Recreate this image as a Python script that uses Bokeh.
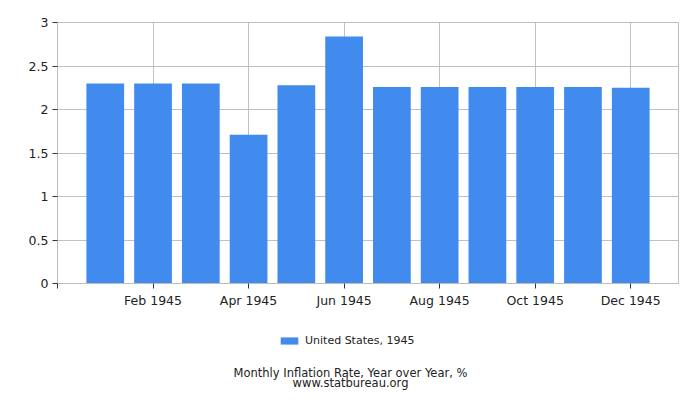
from bokeh.plotting import figure
from bokeh.layouts import column
from bokeh.models import (ColumnDataSource, FixedTicker, Range1d, Legend, LegendItem, Label)
from bokeh.embed import file_html
from bokeh.resources import INLINE

months = ["Jan 1945", "Feb 1945", "Mar 1945", "Apr 1945", "May 1945", "Jun 1945",
          "Jul 1945", "Aug 1945", "Sep 1945", "Oct 1945", "Nov 1945", "Dec 1945"]
month_index = list(range(1, 13))
inflation = [2.30, 2.30, 2.30, 1.71, 2.28, 2.84, 2.26, 2.26, 2.26, 2.26, 2.26, 2.25]
x_ticks = [0, 2, 4, 6, 8, 10, 12]
x_tick_labels = {0: "", 2: "Feb 1945", 4: "Apr 1945", 6: "Jun 1945",
                 8: "Aug 1945", 10: "Oct 1945", 12: "Dec 1945"}
y_ticks = [0, 0.5, 1, 1.5, 2, 2.5, 3]
y_tick_labels = {0: "0", 0.5: "0.5", 1: "1", 1.5: "1.5", 2: "2", 2.5: "2.5", 3: "3"}
series_name = "United States, 1945"
title_text = "Monthly Inflation Rate, Year over Year, %"
source_text = "www.statbureau.org"

FONT = "DejaVu Sans"
BAR = "#428bee"
TXT = "#222222"

src = ColumnDataSource(dict(x=month_index, y=inflation, m=months))

p = figure(width=700, height=310, output_backend="svg", toolbar_location=None,
           x_range=Range1d(0, 13), y_range=Range1d(0, 3),
           min_border_left=57, min_border_top=22, min_border_right=22, min_border_bottom=27)
p.background_fill_color = "white"
p.border_fill_color = "white"
p.outline_line_color = "#bdbdbd"

r = p.vbar(x="x", top="y", width=0.79, source=src, fill_color=BAR, line_color=None)

p.xaxis.ticker = FixedTicker(ticks=x_ticks)
p.xaxis.major_label_overrides = x_tick_labels
p.yaxis.ticker = FixedTicker(ticks=y_ticks)
p.yaxis.major_label_overrides = y_tick_labels
for ax in (p.xaxis, p.yaxis):
    ax.axis_line_color = "#bdbdbd"
    ax.major_tick_line_color = "#333333"
    ax.major_tick_out = 5
    ax.major_tick_in = 0
    ax.minor_tick_line_color = None
    ax.major_label_text_font = FONT
    ax.major_label_text_font_size = "12.5px"
    ax.major_label_text_color = TXT
p.xaxis.major_label_standoff = 4
p.yaxis.major_label_standoff = 4

p.xgrid.ticker = FixedTicker(ticks=x_ticks)
p.ygrid.ticker = FixedTicker(ticks=y_ticks)
p.xgrid.grid_line_color = "#c0c0c0"
p.ygrid.grid_line_color = "#c0c0c0"

# lower panel: legend and captions (frame aligned with the chart frame by the column)
p2 = figure(width=700, height=90, output_backend="svg", toolbar_location=None,
            x_range=Range1d(100, 101), y_range=Range1d(100, 101),
            x_axis_location=None, y_axis_location=None,
            min_border_left=57, min_border_right=22, min_border_top=0, min_border_bottom=0)
p2.outline_line_color = None
p2.xgrid.visible = False
p2.ygrid.visible = False
p2.border_fill_color = "white"
key = p2.vbar(x="x", top="y", width=0.79, source=src, fill_color=BAR, line_color=None)

legend = Legend(items=[LegendItem(label=series_name, renderers=[key])],
                orientation="horizontal", location=(221, 53),
                label_text_font=FONT, label_text_font_size="11px", label_text_color=TXT,
                glyph_width=22, glyph_height=9, border_line_color=None,
                background_fill_alpha=0, margin=0, padding=0, spacing=0,
                label_standoff=5, label_height=13)
p2.add_layout(legend, "center")

for txt, yy in ((title_text, 28), (source_text, 18)):
    p2.add_layout(Label(x=293, y=yy, x_units="screen", y_units="screen", text=txt,
                        text_align="center", text_baseline="middle", text_font=FONT,
                        text_font_size="11.5px", text_color=TXT))

layout = column(p, p2, spacing=0)
open("out.html", "w").write(file_html(layout, INLINE))
